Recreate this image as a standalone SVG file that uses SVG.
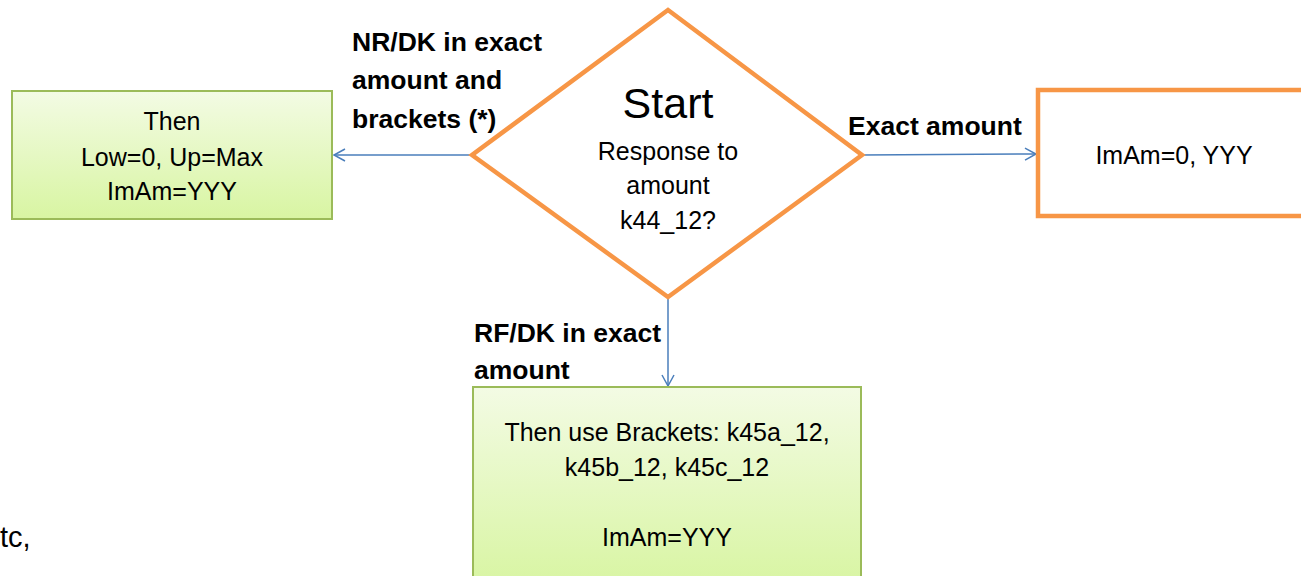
<svg xmlns="http://www.w3.org/2000/svg" width="1301" height="576" viewBox="0 0 1301 576">
<defs>
<linearGradient id="g" x1="0" y1="0" x2="0" y2="1">
<stop offset="0" stop-color="#f3fbe4"/>
<stop offset="1" stop-color="#d8f5a2"/>
</linearGradient>
<marker id="arr" markerWidth="14" markerHeight="14" refX="12" refY="7" orient="auto" markerUnits="userSpaceOnUse">
<path d="M1,1 L12,7 L1,13" fill="none" stroke="#4a7ebb" stroke-width="1.5"/>
</marker>
<style>
.t{font-family:"Liberation Sans",Arial,sans-serif;font-size:25px;fill:#000;text-anchor:middle}
.b{font-family:"Liberation Sans",Arial,sans-serif;font-size:26.5px;font-weight:bold;fill:#000}
.green{fill:url(#g);stroke:#9bbb59;stroke-width:2}
.orange{fill:#fff;stroke:#f79646;stroke-width:4.5}
.c{stroke:#4a7ebb;stroke-width:1.5;fill:none;marker-end:url(#arr)}
</style>
</defs>
<g id="connectors">
<line class="c" x1="472" y1="155" x2="334" y2="155"/>
<line class="c" x1="862" y1="155" x2="1036" y2="154"/>
<line class="c" x1="668" y1="298" x2="668" y2="386"/>
</g>
<g id="labels">
<text class="b" x="352" y="51">NR/DK in exact</text>
<text class="b" x="352" y="89">amount and</text>
<text class="b" x="352" y="128">brackets (*)</text>
<text class="b" x="848" y="135">Exact amount</text>
<text class="b" x="474" y="342">RF/DK in exact</text>
<text class="b" x="474" y="379">amount</text>
</g>
<g id="node-left">
<rect class="green" x="12" y="91" width="320" height="128"/>
<text class="t" x="172" y="130">Then</text>
<text class="t" x="172" y="166">Low=0, Up=Max</text>
<text class="t" x="172" y="200">ImAm=YYY</text>
</g>
<g id="node-start">
<polygon class="orange" points="668,10 862,155 668,297 472,155"/>
<text class="t" x="668" y="118" style="font-size:43px">Start</text>
<text class="t" x="668" y="160">Response to</text>
<text class="t" x="668" y="194">amount</text>
<text class="t" x="668" y="229">k44_12?</text>
</g>
<g id="node-right">
<rect class="orange" x="1038" y="90" width="280" height="126"/>
<text class="t" x="1174" y="164">ImAm=0, YYY</text>
</g>
<g id="node-bottom">
<rect class="green" x="473" y="387" width="388" height="200"/>
<text class="t" x="667" y="441">Then use Brackets: k45a_12,</text>
<text class="t" x="667" y="476">k45b_12, k45c_12</text>
<text class="t" x="667" y="546">ImAm=YYY</text>
</g>
<text x="0" y="547" style="font-family:'Liberation Sans',Arial,sans-serif;font-size:29px;fill:#000">tc,</text>
</svg>
